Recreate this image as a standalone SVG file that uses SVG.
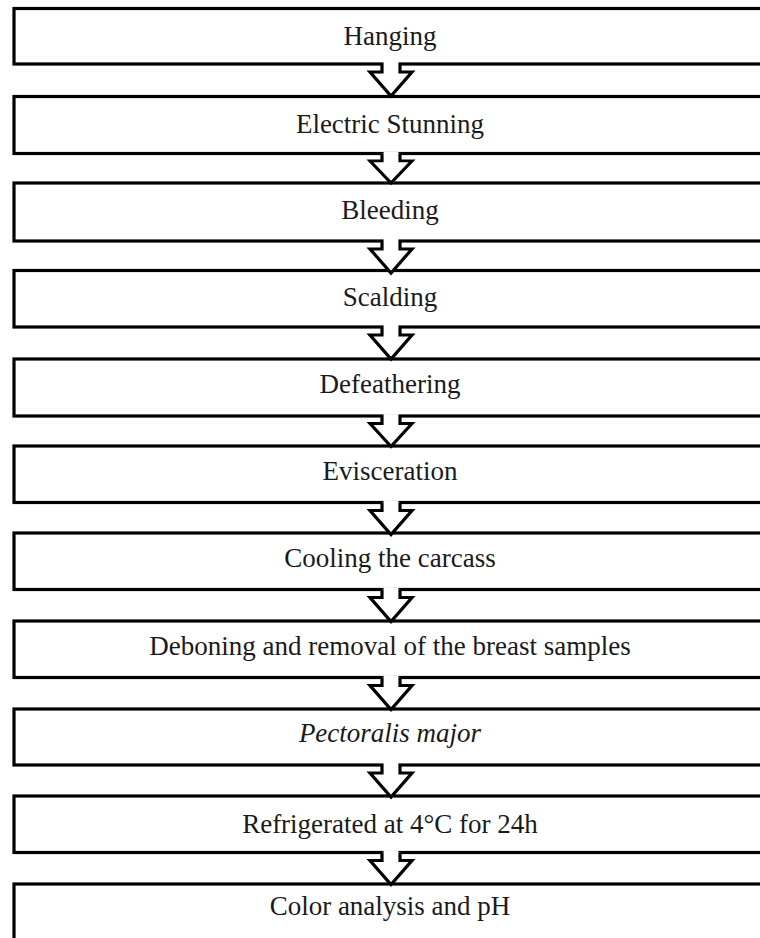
<svg xmlns="http://www.w3.org/2000/svg" width="760" height="938" viewBox="0 0 760 938">
<style>
.box{fill:#fff;stroke:#000;stroke-width:3.2;}
.lbl{font-family:"Liberation Serif","Times New Roman",serif;font-size:27px;fill:#1a1a1a;text-anchor:middle;}
.ar{fill:#fff;stroke:#000;stroke-width:3.2;stroke-linejoin:miter;}
.cover{fill:#fff;stroke:none;}
</style>
<defs>
<g id="arrow">
<path class="cover" d="M383.6,-2 H398.4 V8 H383.6 Z"/>
<path class="ar" d="M382,0 V8 H370 L391,32 L412,8 H400 V0"/>
</g>
</defs>
<rect width="760" height="938" fill="#fff"/>
<g id="n1"><rect class="box" x="14" y="8.5" width="770" height="55.5"/><text class="lbl" x="390" y="45">Hanging</text></g>
<g id="n2"><rect class="box" x="14" y="96.5" width="770" height="57"/><text class="lbl" x="390" y="133">Electric Stunning</text></g>
<g id="n3"><rect class="box" x="14" y="183" width="770" height="58"/><text class="lbl" x="390" y="219">Bleeding</text></g>
<g id="n4"><rect class="box" x="14" y="270.5" width="770" height="56.5"/><text class="lbl" x="390" y="306">Scalding</text></g>
<g id="n5"><rect class="box" x="14" y="359" width="770" height="57"/><text class="lbl" x="390" y="393">Defeathering</text></g>
<g id="n6"><rect class="box" x="14" y="446" width="770" height="56.5"/><text class="lbl" x="390" y="480">Evisceration</text></g>
<g id="n7"><rect class="box" x="14" y="533" width="770" height="56.5"/><text class="lbl" x="390" y="567">Cooling the carcass</text></g>
<g id="n8"><rect class="box" x="14" y="621" width="770" height="56.5"/><text class="lbl" x="390" y="655">Deboning and removal of the breast samples</text></g>
<g id="n9"><rect class="box" x="14" y="709" width="770" height="56"/><text class="lbl" x="390" y="742" font-style="italic">Pectoralis major</text></g>
<g id="n10"><rect class="box" x="14" y="796" width="770" height="56.5"/><text class="lbl" x="390" y="833">Refrigerated at 4°C for 24h</text></g>
<g id="n11"><rect class="box" x="14" y="884" width="770" height="80"/><text class="lbl" x="390" y="915">Color analysis and pH</text></g>
<g id="connectors">
<use href="#arrow" transform="translate(0,64)"/>
<use href="#arrow" transform="translate(0,153.5) scale(1,0.92)"/>
<use href="#arrow" transform="translate(0,241)"/>
<use href="#arrow" transform="translate(0,327)"/>
<use href="#arrow" transform="translate(0,416) scale(1,0.95)"/>
<use href="#arrow" transform="translate(0,502.5)"/>
<use href="#arrow" transform="translate(0,589.5)"/>
<use href="#arrow" transform="translate(0,677.5)"/>
<use href="#arrow" transform="translate(0,765)"/>
<use href="#arrow" transform="translate(0,852.5)"/>
</g>
</svg>
